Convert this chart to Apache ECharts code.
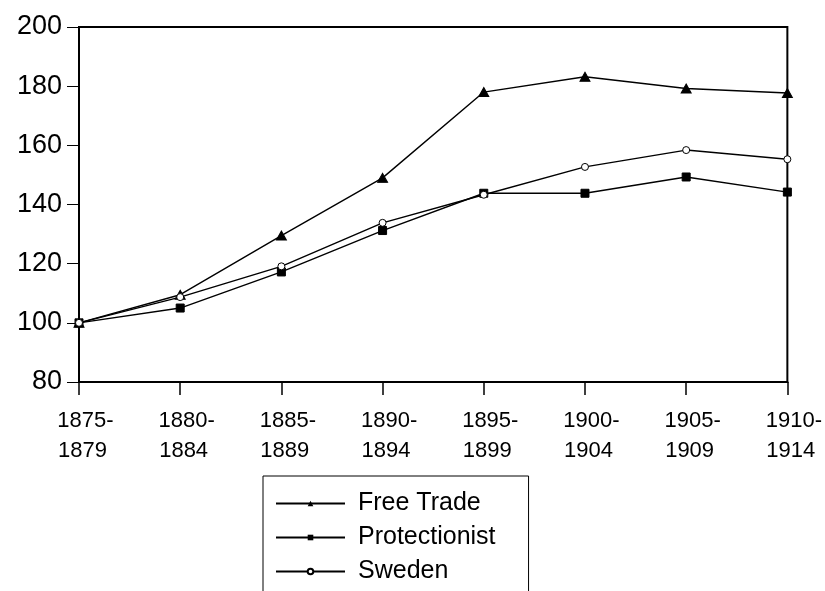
<!DOCTYPE html>
<html>
<head>
<meta charset="utf-8">
<script src="https://cdn.jsdelivr.net/npm/echarts@6/dist/echarts.min.js"></script>
<style>html,body{margin:0;padding:0;background:#fff}#c{width:825px;height:591px}</style>
</head>
<body>
<div id="c"></div>
<script>
const categories = ["1875-\n1879\u00a0", "1880-\n1884\u00a0", "1885-\n1889\u00a0", "1890-\n1894\u00a0", "1895-\n1899\u00a0", "1900-\n1904\u00a0", "1905-\n1909\u00a0", "1910-\n1914\u00a0"];
const freeTrade = [100, 109.5, 129.5, 149, 178, 183.2, 179.2, 177.7];
const protectionist = [100, 105, 117.2, 131.2, 143.8, 143.8, 149.3, 144.2];
const sweden = [100, 108.7, 119.1, 133.8, 143.3, 152.7, 158.4, 155.3];
const yTicks = {min: 80, max: 200, interval: 20};

const chart = echarts.init(document.getElementById('c'), null, {renderer: 'canvas'});
const font = 'Liberation Sans, Arial, sans-serif';
const lineStyle = {color: '#000', width: 1.4};
chart.setOption({
  animation: false,
  backgroundColor: '#fff',
  grid: {left: 79, right: 34, top: 27, bottom: 209, show: true, borderColor: '#000', borderWidth: 2, backgroundColor: 'transparent'},
  xAxis: {
    type: 'category', data: categories, boundaryGap: false,
    axisLine: {lineStyle: {color: '#000', width: 2}},
    axisTick: {show: true, inside: false, length: 13, alignWithLabel: true, lineStyle: {color: '#000', width: 1.5}},
    axisLabel: {color: '#000', fontFamily: font, fontSize: 22, lineHeight: 30, margin: 24, interval: 0, padding: [0, 0, 0, 13]},
    splitLine: {show: false}
  },
  yAxis: {
    type: 'value', min: yTicks.min, max: yTicks.max, interval: yTicks.interval,
    axisLine: {show: true, lineStyle: {color: '#000', width: 2}},
    axisTick: {show: true, inside: false, length: 12, lineStyle: {color: '#000', width: 1}},
    axisLabel: {color: '#000', fontFamily: font, fontSize: 27, margin: 17, padding: [0, 0, 10, 0]},
    splitLine: {show: false}
  },
  legend: {
    orient: 'vertical', left: 263, top: 476, height: 200,
    borderColor: '#000', borderWidth: 1, borderRadius: 0,
    padding: [15, 33, 15, 12], itemGap: 9,
    itemWidth: 69, itemHeight: 7,
    textStyle: {color: '#000', fontFamily: font, fontSize: 25, padding: [0, 0, 0, 8]},
    data: ['Free Trade', 'Protectionist', 'Sweden']
  },
  series: [
    {name: 'Free Trade', type: 'line', data: freeTrade, symbol: 'triangle', symbolSize: [10, 9],
      itemStyle: {color: '#000', borderColor: '#000'}, lineStyle: lineStyle},
    {name: 'Protectionist', type: 'line', data: protectionist, symbol: 'rect', symbolSize: 8,
      itemStyle: {color: '#000', borderColor: '#000'}, lineStyle: lineStyle},
    {name: 'Sweden', type: 'line', data: sweden, symbol: 'circle', symbolSize: 7,
      itemStyle: {color: '#fff', borderColor: '#000', borderWidth: 1}, lineStyle: lineStyle}
  ]
});
</script>
</body>
</html>
